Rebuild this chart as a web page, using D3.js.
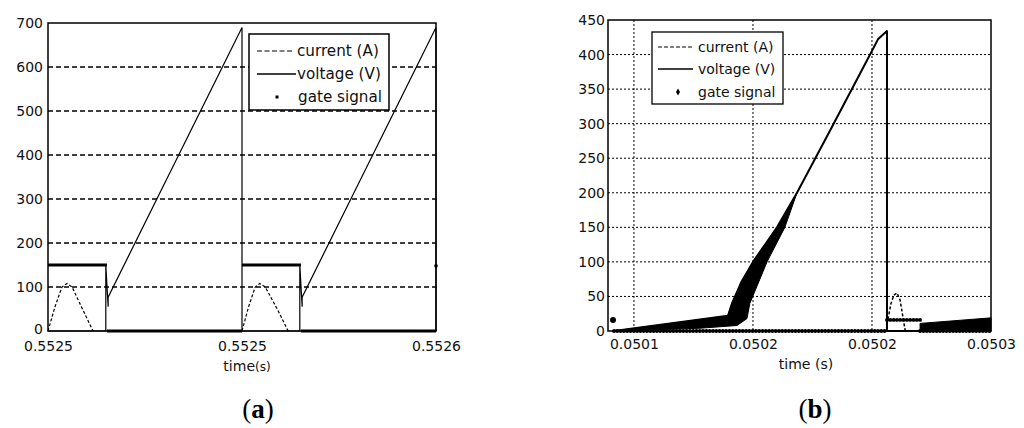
<!DOCTYPE html>
<html><head><meta charset="utf-8">
<script src="https://cdn.jsdelivr.net/npm/d3@7"></script>
<style>html,body{margin:0;padding:0;background:#fff;}svg{display:block;}</style>
</head><body>
<svg id="c" width="1024" height="428"></svg>
<script>
// ---------- Panel (a) data ----------
const aXTicks = [0.55250, 0.55255, 0.55260];
const aXTickLabels = ["0.5525", "0.5525", "0.5526"];
const aYTicks = [0, 100, 200, 300, 400, 500, 600, 700];
const aGrid = [100, 200, 300, 400, 500, 600];
const aCurrent1 = [[0.5525000,0],[0.5525018,55],[0.5525036,100],[0.5525049,108],[0.5525062,100],[0.5525090,48],[0.5525116,0]];
const aCurrent2 = [[0.5525500,0],[0.5525517,55],[0.5525534,100],[0.5525546,108],[0.5525560,100],[0.5525592,48],[0.5525619,0]];
const aVoltage = [[0.5525000,0],[0.5525149,0],[0.5525149,150],[0.5525155,55],[0.5525155,77],[0.5525500,690],[0.5525500,0],
                  [0.5525649,0],[0.5525649,150],[0.5525655,55],[0.5525655,77],[0.5526000,690],[0.5526000,0]];
const aGate = [[0.5525000,0.5525152,150],[0.5525152,0.5525500,0],[0.5525500,0.5525652,150],[0.5525652,0.5526000,0]];
const aGateDots = [[0.5526000,148]];

// ---------- Panel (b) data ----------
const bXTicks = [0.05010, 0.05015, 0.05020, 0.05025];
const bXTickLabels = ["0.0501", "0.0502", "0.0502", "0.0503"];
const bXGrid = [0.05010, 0.05015, 0.05020];
const bYTicks = [0, 50, 100, 150, 200, 250, 300, 350, 400, 450];
const bYGrid = [50, 100, 150, 200, 250, 300, 350, 400];
const bVoltage = [[0.0500916,0],[0.0501395,22],[0.0501412,40],[0.0501450,70],[0.0501500,100],[0.0501601,150],[0.0501685,200],
                  [0.0501824,290],[0.0501908,345],[0.0501992,400],[0.0502025,422],[0.0502063,434],[0.0502063,0],[0.0502500,0]];
const bBandUpper = [[0.0500916,0],[0.0501395,22],[0.0501412,40],[0.0501450,70],[0.0501500,100],[0.0501601,150],[0.0501685,200]];
const bBandLower = [[0.0500916,0],[0.0501277,4],[0.0501433,8],[0.0501475,18],[0.0501487,40],[0.0501559,100],[0.0501634,150],[0.0501685,200]];
const bBand2 = [[0.0502202,0],[0.0502202,11],[0.0502500,19],[0.0502500,0]];
const bCurrent = [[0.0502067,17],[0.0502080,40],[0.0502092,52],[0.0502105,55],[0.0502118,45],[0.0502130,20],[0.0502140,0]];
const bGate = [[0.0500916,0.0502063,0],[0.0502063,0.0502202,16],[0.0502202,0.0502500,0]];
const bGateDots = [[0.0500912,16]];

const legendLabels = ["current (A)", "voltage (V)", "gate signal"];

const svg = d3.select("#c");
const FONT = "DejaVu Sans, sans-serif";

function panel(cfg) {
  const g = svg.append("g");
  const x = d3.scaleLinear().domain(cfg.xDomain).range([cfg.left, cfg.right]);
  const y = d3.scaleLinear().domain(cfg.yDomain).range([cfg.bottom, cfg.top]);
  g.selectAll(".hg").data(cfg.yGrid).enter().append("line")
    .attr("x1", cfg.left).attr("x2", cfg.right).attr("y1", d => y(d)).attr("y2", d => y(d))
    .attr("stroke", "#000").attr("stroke-width", cfg.gridW).attr("stroke-dasharray", cfg.gridDash);
  g.selectAll(".vg").data(cfg.xGrid).enter().append("line")
    .attr("y1", cfg.top).attr("y2", cfg.bottom).attr("x1", d => x(d)).attr("x2", d => x(d))
    .attr("stroke", "#000").attr("stroke-width", cfg.gridW).attr("stroke-dasharray", cfg.gridDash);
  return {g, x, y};
}

// ===== Panel (a) =====
{
  const {g, x, y} = panel({xDomain:[0.55250,0.55260], yDomain:[0,700], left:48, right:436, top:23, bottom:331,
    yGrid:aGrid, xGrid:[], gridW:1.3, gridDash:"5,3"});
  const line = d3.line().x(d => x(d[0])).y(d => y(d[1]));
  aGate.forEach(s => {
    g.append("line").attr("x1", x(s[0])).attr("x2", x(s[1])).attr("y1", y(s[2])).attr("y2", y(s[2]))
      .attr("stroke", "#000").attr("stroke-width", s[2] > 0 ? 3.2 : 3);
  });
  g.selectAll(".gd").data(aGateDots).enter().append("circle")
    .attr("cx", d => x(d[0])).attr("cy", d => y(d[1])).attr("r", 1.8).attr("fill", "#000");
  [aCurrent1, aCurrent2].forEach(c => g.append("path").attr("d", line(c)).attr("fill", "none")
    .attr("stroke", "#000").attr("stroke-width", 1.2).attr("stroke-dasharray", "3,2"));
  g.append("path").attr("d", line(aVoltage)).attr("fill", "none").attr("stroke", "#000").attr("stroke-width", 1.2);
  g.append("rect").attr("x", 48).attr("y", 23).attr("width", 388).attr("height", 308)
    .attr("fill", "none").attr("stroke", "#000").attr("stroke-width", 1.5);
  const ax = g.append("g").attr("transform", "translate(0,331)")
    .call(d3.axisBottom(x).tickValues(aXTicks).tickFormat((d, i) => aXTickLabels[i]).tickSize(0).tickPadding(10));
  const ay = g.append("g").attr("transform", "translate(48,0)")
    .call(d3.axisLeft(y).tickValues(aYTicks).tickFormat(d3.format("d")).tickSize(0).tickPadding(5));
  [ax, ay].forEach(a => { a.select(".domain").remove(); a.selectAll("text").attr("font-family", FONT).attr("font-size", 14).attr("fill", "#111"); });
  ay.selectAll(".tick text").filter(d => d === 0).attr("dy", "0.2em");
  const xl = g.append("text").attr("x", 247).attr("y", 371).attr("text-anchor", "middle")
    .attr("font-family", FONT).attr("fill", "#111");
  xl.append("tspan").attr("font-size", 14).text("time");
  xl.append("tspan").attr("font-size", 12).text("(s)");
  const L = g.append("g");
  L.append("rect").attr("x", 249).attr("y", 34).attr("width", 140).attr("height", 76)
    .attr("fill", "#fff").attr("stroke", "#000").attr("stroke-width", 1.5);
  const ly = [51, 74, 97];
  L.append("line").attr("x1", 257).attr("x2", 293).attr("y1", ly[0]).attr("y2", ly[0]).attr("stroke", "#000").attr("stroke-width", 1.2).attr("stroke-dasharray", "5,2.5");
  L.append("line").attr("x1", 257).attr("x2", 296).attr("y1", ly[1]).attr("y2", ly[1]).attr("stroke", "#000").attr("stroke-width", 1.3);
  L.append("rect").attr("x", 275.5).attr("y", ly[2]-1.5).attr("width", 3).attr("height", 3).attr("fill", "#000");
  L.selectAll("text").data(legendLabels).enter().append("text")
    .attr("x", (d, i) => i === 2 ? 298 : 297).attr("y", (d, i) => ly[i]).attr("dy", "0.36em")
    .attr("font-family", FONT).attr("font-size", 15.2).attr("fill", "#111").text(d => d);
}

// ===== Panel (b) =====
{
  const {g, x, y} = panel({xDomain:[0.0500891,0.05025], yDomain:[0,450], left:608, right:991, top:20, bottom:331,
    yGrid:bYGrid, xGrid:bXGrid, gridW:1, gridDash:"2,2"});
  const line = d3.line().x(d => x(d[0])).y(d => y(d[1]));
  bGate.forEach(s => {
    g.append("line").attr("x1", x(s[0])).attr("x2", x(s[1])).attr("y1", y(s[2])).attr("y2", y(s[2]))
      .attr("stroke", "#000").attr("stroke-width", 3.8).attr("stroke-linecap", "round").attr("stroke-dasharray", "0.1,3.2");
  });
  g.selectAll(".gd").data(bGateDots).enter().append("circle")
    .attr("cx", d => x(d[0])).attr("cy", d => y(d[1])).attr("r", 3).attr("fill", "#000");
  g.append("path").attr("d", line(bBandUpper.concat(bBandLower.slice().reverse())) + "Z").attr("fill", "#000").attr("stroke", "#000").attr("stroke-width", 1);
  g.append("path").attr("d", line(bBand2) + "Z").attr("fill", "#000").attr("stroke", "#000").attr("stroke-width", 1);
  g.append("path").attr("d", line(bVoltage)).attr("fill", "none").attr("stroke", "#000").attr("stroke-width", 2).attr("stroke-linejoin", "round");
  g.append("path").attr("d", line(bCurrent)).attr("fill", "none").attr("stroke", "#000").attr("stroke-width", 1.5).attr("stroke-dasharray", "3,2");
  g.append("rect").attr("x", 608).attr("y", 20).attr("width", 383).attr("height", 311)
    .attr("fill", "none").attr("stroke", "#000").attr("stroke-width", 1.5);
  const ax = g.append("g").attr("transform", "translate(0,331)")
    .call(d3.axisBottom(x).tickValues(bXTicks).tickFormat((d, i) => bXTickLabels[i]).tickSize(0).tickPadding(8));
  const ay = g.append("g").attr("transform", "translate(608,0)")
    .call(d3.axisLeft(y).tickValues(bYTicks).tickFormat(d3.format("d")).tickSize(0).tickPadding(3));
  [ax, ay].forEach(a => { a.select(".domain").remove(); a.selectAll("text").attr("font-family", FONT).attr("font-size", 14).attr("fill", "#111"); });
  g.append("text").attr("x", 806).attr("y", 369).attr("text-anchor", "middle")
    .attr("font-family", FONT).attr("font-size", 14).attr("fill", "#111").text("time (s)");
  const L = g.append("g");
  L.append("rect").attr("x", 652).attr("y", 32).attr("width", 131).attr("height", 72)
    .attr("fill", "#fff").attr("stroke", "#000").attr("stroke-width", 1.3);
  const ly = [47, 69, 92];
  L.append("line").attr("x1", 658).attr("x2", 692).attr("y1", ly[0]).attr("y2", ly[0]).attr("stroke", "#000").attr("stroke-width", 1.2).attr("stroke-dasharray", "4,2");
  L.append("line").attr("x1", 658).attr("x2", 693).attr("y1", ly[1]).attr("y2", ly[1]).attr("stroke", "#000").attr("stroke-width", 1.6);
  L.append("path").attr("d", d3.symbol(d3.symbolDiamond, 14)()).attr("transform", `translate(678,${ly[2]})`).attr("fill", "#000");
  L.selectAll("text").data(legendLabels).enter().append("text")
    .attr("x", 698).attr("y", (d, i) => ly[i]).attr("dy", "0.36em")
    .attr("font-family", FONT).attr("font-size", 14).attr("fill", "#111").text(d => d);
}

// ===== Captions =====
[["a", 258], ["b", 815]].forEach(([t, cx]) => {
  const tx = svg.append("text").attr("x", cx).attr("y", 418).attr("text-anchor", "middle")
    .attr("font-family", "Liberation Serif, Times New Roman, serif").attr("font-size", 27).attr("fill", "#000");
  tx.append("tspan").text("(");
  tx.append("tspan").attr("font-weight", "bold").text(t);
  tx.append("tspan").text(")");
});
</script>
</body></html>
